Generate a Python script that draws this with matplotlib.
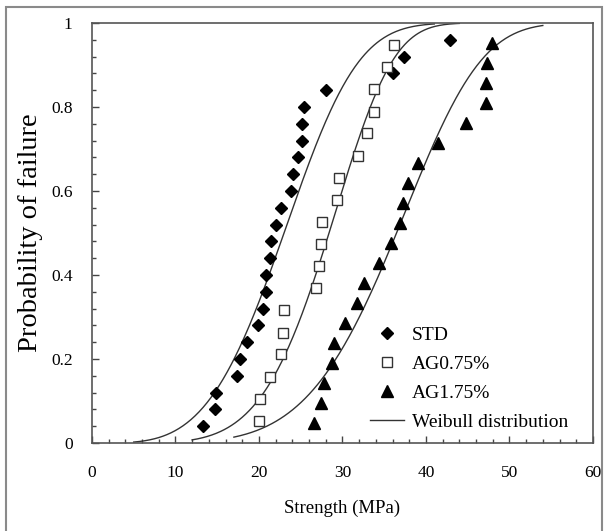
import numpy as np
import matplotlib
matplotlib.use("Agg")
import matplotlib.pyplot as plt
from matplotlib.patches import Rectangle
from matplotlib.ticker import MultipleLocator, FuncFormatter

# ---- data ----
std_strength = [13.3, 14.7, 14.8, 17.4, 17.7, 18.6, 19.9, 20.5, 20.8, 20.9, 21.3, 21.4,
                22.1, 22.7, 23.8, 24.1, 24.7, 25.1, 25.1, 25.4, 28.0, 36.0, 37.4, 42.9]
std_prob = [0.04, 0.08, 0.12, 0.16, 0.20, 0.24, 0.28, 0.32, 0.36, 0.40, 0.44, 0.48,
            0.52, 0.56, 0.60, 0.64, 0.68, 0.72, 0.76, 0.80, 0.84, 0.88, 0.92, 0.96]

ag075_strength = [20.0, 20.1, 21.3, 22.7, 22.9, 23.0, 26.8, 27.2, 27.4, 27.6, 29.4, 29.6,
                  31.9, 33.0, 33.8, 33.8, 35.3, 36.2]
ag075_prob = [0.053, 0.105, 0.158, 0.211, 0.263, 0.316, 0.368, 0.421, 0.474, 0.526,
              0.579, 0.632, 0.684, 0.737, 0.789, 0.842, 0.895, 0.947]

ag175_strength = [26.6, 27.4, 27.8, 28.8, 29.0, 30.3, 31.7, 32.6, 34.4, 35.8, 36.9, 37.2,
                  37.8, 39.0, 41.4, 44.8, 47.2, 47.2, 47.3, 47.9]
ag175_prob = [0.048, 0.095, 0.143, 0.190, 0.238, 0.286, 0.333, 0.381, 0.429, 0.476,
              0.524, 0.571, 0.619, 0.667, 0.714, 0.762, 0.810, 0.857, 0.905, 0.952]

# Weibull fit parameters (modulus, scale) and drawn range
weibull_std = (3.76, 25.36, 5.0, 41.0)
weibull_ag075 = (5.25, 30.45, 12.0, 44.0)
weibull_ag175 = (5.1, 39.2, 17.0, 54.0)

legend_labels = ["STD", "AG0.75%", "AG1.75%", "Weibull distribution"]

plt.rcParams['font.family'] = ['Liberation Serif', 'DejaVu Serif']

fig = plt.figure(figsize=(6.05, 5.31), dpi=100)
ax = fig.add_axes([0.152, 0.1657, 0.828, 0.791])

# outer frame
fig.patches.append(Rectangle((6 / 605, -0.05), 596 / 605, 1.05 - 7 / 531,
                             transform=fig.transFigure, fill=False,
                             edgecolor='#8a8a8a', linewidth=1.5))


def weib(params):
    m, s, a, b = params
    x = np.linspace(a, b, 300)
    return x, 1 - np.exp(-(x / s) ** m)


for p in (weibull_std, weibull_ag075, weibull_ag175):
    x, y = weib(p)
    ax.plot(x, y, color='#333333', lw=1.0, zorder=2)

ax.plot(std_strength, std_prob, 'D', color='black', ms=6.5, ls='none', zorder=3)
ax.plot(ag075_strength, ag075_prob, 's', mfc='white', mec='#333333', mew=1.0,
        ms=6.5, ls='none', zorder=3)
ax.plot(ag175_strength, ag175_prob, '^', color='black', ms=8, ls='none', zorder=3)

# legend drawn with proxy handles
h1, = ax.plot([], [], 'D', color='black', ms=6.5, ls='none')
h2, = ax.plot([], [], 's', mfc='white', mec='#333333', mew=1.0, ms=6.5, ls='none')
h3, = ax.plot([], [], '^', color='black', ms=8, ls='none')
h4, = ax.plot([], [], color='#333333', lw=1.0)
leg = ax.legend([h1, h2, h3, h4], legend_labels, loc='lower right',
                bbox_to_anchor=(0.985, -0.012), frameon=False, fontsize=14,
                handlelength=1.75, handletextpad=0.4, labelspacing=0.58)

ax.set_xlim(0, 60)
ax.set_ylim(0, 1)
ax.xaxis.set_major_locator(MultipleLocator(10))
ax.xaxis.set_minor_locator(MultipleLocator(2))
ax.yaxis.set_major_locator(MultipleLocator(0.2))
ax.yaxis.set_minor_locator(MultipleLocator(0.04))
ax.yaxis.set_major_formatter(FuncFormatter(lambda v, _: f"{v:g}"))

ax.tick_params(which='both', direction='in', top=False, right=False,
               color='#444444', labelsize=12.5)
ax.tick_params(which='major', length=5, width=1)
ax.tick_params(which='minor', length=3, width=1)
ax.tick_params(axis='x', pad=16)
ax.tick_params(axis='y', pad=14)
for sp in ax.spines.values():
    sp.set_color('#555555')
    sp.set_linewidth(1.2)

ax.set_xlabel("Strength (MPa)", fontsize=13.5, labelpad=13)
ax.set_ylabel("Probability of failure", fontsize=20.5, labelpad=6)

fig.savefig("out.png", dpi=100)
